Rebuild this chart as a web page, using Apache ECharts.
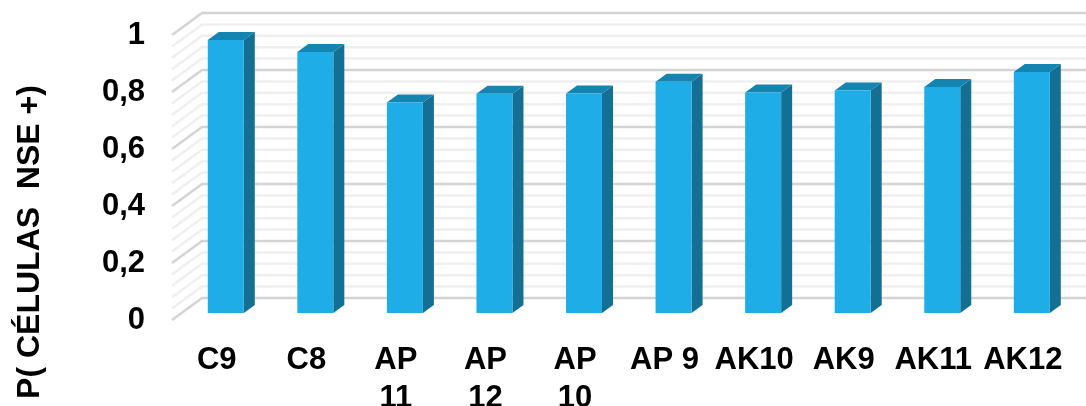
<!DOCTYPE html>
<html><head><meta charset="utf-8">
<style>html,body{margin:0;padding:0;background:#fff}#c{width:1086px;height:406px}</style>
<script src="https://cdn.jsdelivr.net/npm/echarts@6/dist/echarts.min.js"></script>
</head><body><div id="c"></div>
<script>
const categories = ['C9','C8','AP\n11','AP\n12','AP\n10','AP 9','AK10','AK9','AK11','AK12'];
const values = [0.958,0.916,0.739,0.769,0.77,0.811,0.774,0.781,0.793,0.846];
const majorTicks = [0,0.2,0.4,0.6,0.8,1];
const minorTicks = [0.04,0.08,0.12,0.16,0.24,0.28,0.32,0.36,0.44,0.48,0.52,0.56,0.64,0.68,0.72,0.76,0.84,0.88,0.92,0.96];
const yTitle = 'P( CÉLULAS  NSE +)';
const font = '"Liberation Sans", Arial, sans-serif';

const chart = echarts.init(document.getElementById('c'), null, {renderer:'canvas'});

function wallItem(color, width) {
  return function (params, api) {
    const cs = params.coordSys;
    const y = api.coord([0, api.value(1)])[1];
    const bx = cs.x + 30, by = y - 22;
    const st = {stroke: color, lineWidth: width, fill: null};
    return {type:'group', children:[
      {type:'polyline', shape:{points:[[cs.x,y],[bx,by],[cs.x+cs.width+30,by]]}, style:st}
    ]};
  };
}
function barItem(params, api) {
  const c = api.coord([api.value(0), api.value(1)]);
  const base = api.coord([api.value(0), 0]);
  const w = api.size([1,0])[0]*0.402;
  const ox = 9, oy = -7, dx = 11, dy = -8;
  const l = c[0]-w/2+ox, r = c[0]+w/2+ox, t = c[1]+oy, b = base[1]+oy;
  return {type:'group', children:[
    {type:'polygon', shape:{points:[[r,t],[r+dx,t+dy],[r+dx,b+dy],[r,b]]}, style:{fill:'#136F94'}},
    {type:'polygon', shape:{points:[[l,t],[l+dx,t+dy],[r+dx,t+dy],[r,t]]}, style:{fill:'#1484B1'}},
    {type:'rect', shape:{x:l,y:t,width:r-l,height:b-t}, style:{fill:'#1EADE6'}}
  ]};
}
chart.setOption({
  animation:false,
  backgroundColor:'#fff',
  grid:{left:172,top:35,width:895.6,height:285,containLabel:false,outerBoundsMode:'none'},
  graphic:[{type:'text',x:30,y:242,rotation:Math.PI/2,
    style:{text:yTitle,fill:'#000',font:'bold 32px '+font,textAlign:'center',textVerticalAlign:'middle'}}],
  xAxis:{type:'category',data:categories,
    axisLine:{show:false},axisTick:{show:false},splitLine:{show:false},
    axisLabel:{interval:0,margin:21,color:'#000',fontFamily:font,fontWeight:'bold',fontSize:31,lineHeight:38,verticalAlign:'top'}},
  yAxis:{type:'value',min:0,max:1,interval:0.2,
    axisLine:{show:false},axisTick:{show:false},splitLine:{show:false},
    axisLabel:{margin:27,color:'#000',fontFamily:font,fontWeight:'bold',fontSize:31,
      formatter:v=>String(+v.toFixed(1)).replace('.',',')}},
  series:[
    {type:'custom',silent:true,clip:false,z:1,renderItem:wallItem('#EFEFEF',2.5),encode:{x:0,y:1},data:minorTicks.map(v=>[0,v])},
    {type:'custom',silent:true,clip:false,z:2,renderItem:wallItem('#D4D4D4',2.5),encode:{x:0,y:1},data:majorTicks.map(v=>[0,v])},
    {type:'custom',clip:false,z:3,renderItem:barItem,encode:{x:0,y:1},data:values.map((v,i)=>[i,v])}
  ]
});
</script></body></html>
